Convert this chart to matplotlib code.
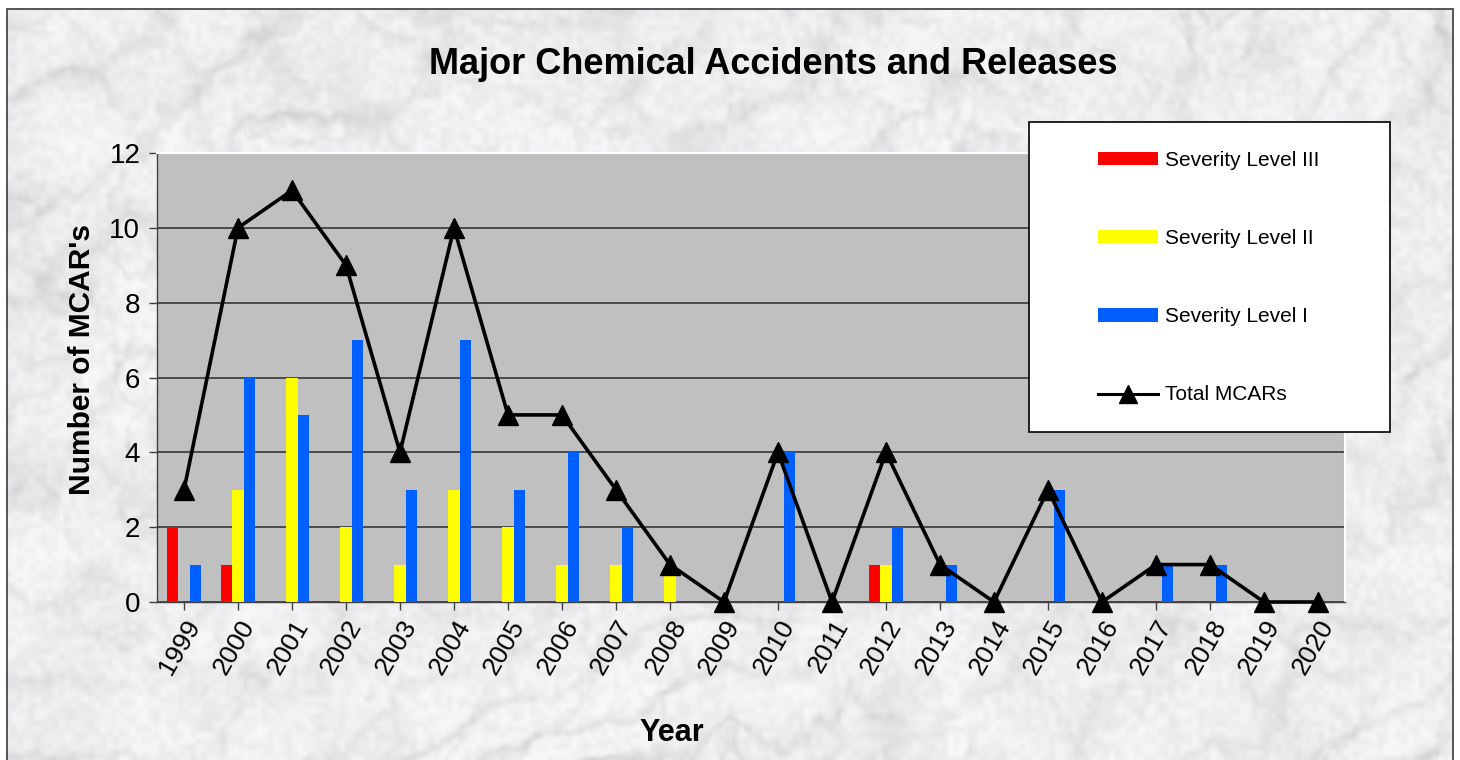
import numpy as np
import matplotlib
matplotlib.use("Agg")
import matplotlib.pyplot as plt
from matplotlib.patches import Rectangle, Patch
from matplotlib.lines import Line2D

plt.rcParams['font.family'] = ['Liberation Sans', 'DejaVu Sans']

# ---- data -------------------------------------------------------------
years = [str(y) for y in range(1999, 2021)]
level_iii = [2, 1, 0, 0, 0, 0, 0, 0, 0, 0, 0, 0, 0, 1, 0, 0, 0, 0, 0, 0, 0, 0]
level_ii = [0, 3, 6, 2, 1, 3, 2, 1, 1, 1, 0, 0, 0, 1, 0, 0, 0, 0, 0, 0, 0, 0]
level_i = [1, 6, 5, 7, 3, 7, 3, 4, 2, 0, 0, 4, 0, 2, 1, 0, 3, 0, 1, 1, 0, 0]
total = [3, 10, 11, 9, 4, 10, 5, 5, 3, 1, 0, 4, 0, 4, 1, 0, 3, 0, 1, 1, 0, 0]
y_ticks = [0, 2, 4, 6, 8, 10, 12]

W_PX, H_PX = 1460, 760
fig = plt.figure(figsize=(W_PX / 100, H_PX / 100), dpi=100)
fig.patch.set_facecolor('white')


# ---- marble backdrop ----------------------------------------------------
def upsample(a, H, W):
    h, w = a.shape
    yi = np.linspace(0, h - 1, H)
    xi = np.linspace(0, w - 1, W)
    y0 = np.floor(yi).astype(int)
    x0 = np.floor(xi).astype(int)
    y1 = np.minimum(y0 + 1, h - 1)
    x1 = np.minimum(x0 + 1, w - 1)
    wy = (yi - y0)[:, None]
    wx = (xi - x0)[None, :]
    top = a[y0][:, x0] * (1 - wx) + a[y0][:, x1] * wx
    bot = a[y1][:, x0] * (1 - wx) + a[y1][:, x1] * wx
    return top * (1 - wy) + bot * wy


rng = np.random.default_rng(7)
TH, TW = 380, 730
turb = np.zeros((TH, TW))
amp = 1.0
for cells in (6, 12, 24, 48, 96):
    grid = rng.random((max(2, int(cells * TH / TW)) + 1, cells + 1))
    turb += amp * np.abs(upsample(grid, TH, TW) - 0.5)
    amp *= 0.5
yy, xx = np.mgrid[0:TH, 0:TW]
veins_a = np.sin((xx * 0.035 + yy * 0.055) + 9.0 * turb)
veins_b = np.sin((xx * 0.05 - yy * 0.03) + 11.0 * turb + 1.3)
fine = upsample(rng.random((TH // 3, TW // 3)), TH, TW)
blotch = upsample(rng.random((12, 24)), TH, TW)
shade = (0.94
         - 0.07 * np.exp(-(veins_a / 0.35) ** 2) * (0.3 + turb)
         - 0.05 * np.exp(-(veins_b / 0.30) ** 2) * (0.3 + turb)
         - 0.06 * (fine - 0.5)
         - 0.04 * (blotch - 0.5))
shade = np.clip(shade, 0.74, 0.97)
rgb = np.dstack([shade, shade, np.clip(shade + 0.012, 0, 1)])

bg_left, bg_top, bg_right = 7 / W_PX, 1 - 9 / H_PX, 1453 / W_PX
bg_ax = fig.add_axes([bg_left, 0, bg_right - bg_left, bg_top], zorder=-5)
bg_ax.imshow(rgb, aspect='auto', interpolation='bilinear')
bg_ax.set_axis_off()
fig.patches.append(Rectangle((bg_left, -0.01), bg_right - bg_left, bg_top + 0.01,
                             transform=fig.transFigure, fill=False,
                             edgecolor='#3a3a3a', linewidth=1.2, zorder=10))

# ---- main plot ------------------------------------------------------------
ax_l, ax_r, ax_t, ax_b = 157, 1345, 153, 602
ax = fig.add_axes([ax_l / W_PX, 1 - ax_b / H_PX,
                   (ax_r - ax_l) / W_PX, (ax_b - ax_t) / H_PX])
ax.set_facecolor('#c0c0c0')

x = np.arange(len(years))
bw = 0.215
ax.bar(x - bw, level_iii, bw, color='#ff0000', linewidth=0, zorder=3)
ax.bar(x, level_ii, bw, color='#ffff00', linewidth=0, zorder=3)
ax.bar(x + bw, level_i, bw, color='#0060ff', linewidth=0, zorder=3)
ax.plot(x, total, color='black', linewidth=2.6, marker='^', markersize=15,
        clip_on=False, zorder=5)

ax.set_xlim(-0.5, len(years) - 0.5)
ax.set_ylim(0, 12)
ax.set_yticks(y_ticks)
ax.set_yticklabels([str(v) for v in y_ticks], fontsize=20)
ax.set_xticks(x)
ax.set_xticklabels(years, fontsize=19, rotation=60, ha='right', va='top',
                   rotation_mode='anchor')
ax.tick_params(axis='both', direction='out', length=6, color='#404040', width=1)
ax.tick_params(axis='x', pad=4)
ax.tick_params(axis='y', pad=6)
ax.yaxis.grid(True, color='#4a4a4a', linewidth=1.4, zorder=1)
ax.set_axisbelow(True)
for side in ('left', 'bottom'):
    ax.spines[side].set_color('#404040')
    ax.spines[side].set_linewidth(1)
for side in ('top', 'right'):
    ax.spines[side].set_color('white')
    ax.spines[side].set_linewidth(1.5)

fig.text(773 / W_PX, 1 - 65 / H_PX, 'Major Chemical Accidents and Releases',
         fontsize=26, fontweight='bold', ha='center', va='center')
fig.text(82 / W_PX, 1 - 360 / H_PX, "Number of MCAR's", fontsize=21.5,
         fontweight='bold', rotation=90, ha='center', va='center')
fig.text(672 / W_PX, 1 - 733 / H_PX, 'Year', fontsize=22, fontweight='bold',
         ha='center', va='center')

# ---- legend ---------------------------------------------------------------
lg_l, lg_t, lg_r, lg_b = 1029, 122, 1390, 432
fig.patches.append(Rectangle((lg_l / W_PX, 1 - lg_b / H_PX),
                             (lg_r - lg_l) / W_PX, (lg_b - lg_t) / H_PX,
                             transform=fig.transFigure, facecolor='white',
                             edgecolor='black', linewidth=1.2, zorder=20))
handles = [
    Patch(facecolor='#ff0000', edgecolor='none'),
    Patch(facecolor='#ffff00', edgecolor='none'),
    Patch(facecolor='#0060ff', edgecolor='none'),
    Line2D([], [], color='black', linewidth=2.2, marker='^', markersize=13),
]
labels = ['Severity Level III', 'Severity Level II', 'Severity Level I',
          'Total MCARs']
leg = fig.legend(handles, labels, loc='upper left',
                 bbox_to_anchor=(1098 / W_PX, 1 - 151 / H_PX),
                 frameon=False, fontsize=15, handlelength=2.9,
                 handleheight=0.6, handletextpad=0.3, labelspacing=2.84,
                 borderpad=0, borderaxespad=0)
leg.set_zorder(21)

fig.savefig('out.png', dpi=100)
